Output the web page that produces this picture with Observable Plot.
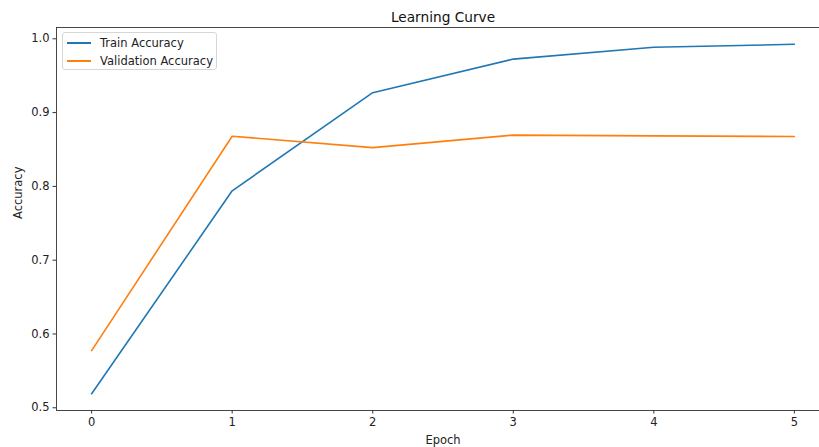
<!DOCTYPE html>
<html>
<head>
<meta charset="utf-8">
<script src="https://cdn.jsdelivr.net/npm/d3@7"></script>
<script src="https://cdn.jsdelivr.net/npm/@observablehq/plot@0.6"></script>
<style>
  html, body { margin: 0; padding: 0; background: #fff; overflow: hidden; }
  #wrap { position: relative; width: 819px; height: 447px; overflow: hidden; font-family: "DejaVu Sans", sans-serif; }
  .legend { position: absolute; left: 62px; top: 32px; width: 155px; height: 38px; border: 1px solid #d6d6d6; border-radius: 3px; background: rgba(255,255,255,0.8); box-sizing: border-box; font-size: 11.5px; color: #222; }
  .item { position: absolute; left: 4px; height: 14px; display: flex; align-items: center; white-space: nowrap; }
  .item span.sw { display: inline-block; width: 24px; height: 2px; margin-right: 9px; }
</style>
</head>
<body>
<div id="wrap"></div>
<script>
const epochs = [0, 1, 2, 3, 4, 5];
const trainAccuracy = [0.519, 0.794, 0.927, 0.9725, 0.9885, 0.9925];
const validationAccuracy = [0.5775, 0.868, 0.8525, 0.8695, 0.8685, 0.8675];
const seriesNames = ["Train Accuracy", "Validation Accuracy"];
const seriesColors = ["#1f77b4", "#ff7f0e"];
const yTicks = [0.5, 0.6, 0.7, 0.8, 0.9, 1.0];
const xTicks = [0, 1, 2, 3, 4, 5];

const rows = [];
epochs.forEach((e, i) => {
  rows.push({epoch: e, acc: trainAccuracy[i], series: seriesNames[0]});
  rows.push({epoch: e, acc: validationAccuracy[i], series: seriesNames[1]});
});

const font = "DejaVu Sans, sans-serif";
const chart = Plot.plot({
  width: 829,
  height: 447,
  marginLeft: 56,
  marginRight: 0,
  marginTop: 27,
  marginBottom: 37,
  style: {fontFamily: font, fontSize: "11.5px", color: "#222", maxWidth: "none", background: "white"},
  x: {domain: [-0.25, 5.25], ticks: xTicks, tickFormat: d3.format("d"), label: null, tickSize: 3.5, tickPadding: 3.5},
  y: {domain: [0.4963, 1.0153], ticks: yTicks, tickFormat: d3.format(".1f"), label: null, tickSize: 3.5, tickPadding: 3.5},
  color: {domain: seriesNames, range: seriesColors},
  marks: [
    Plot.line(rows, {x: "epoch", y: "acc", z: "series", stroke: "series", strokeWidth: 1.6}),
    Plot.frame({stroke: "#333", strokeWidth: 0.9}),
    Plot.axisX({ticks: xTicks, tickFormat: d3.format("d"), tickSize: 3.5, tickPadding: 3.5, fontSize: 11.5, stroke: "#333", fill: "#222"}),
    Plot.axisY({ticks: yTicks, tickFormat: d3.format(".1f"), tickSize: 3.5, tickPadding: 3.5, fontSize: 11.5, stroke: "#333", fill: "#222"}),
    Plot.text(["Learning Curve"], {frameAnchor: "top", dy: -15, fontSize: 13.7, fill: "#111"}),
    Plot.text(["Epoch"], {frameAnchor: "bottom", dy: 33, fontSize: 11.5, fill: "#222"}),
    Plot.text(["Accuracy"], {frameAnchor: "left", dx: -38, rotate: -90, fontSize: 11.5, fill: "#222"})
  ]
});
const wrap = document.getElementById("wrap");
wrap.appendChild(chart);

const leg = document.createElement("div");
leg.className = "legend";
seriesNames.forEach((n, i) => {
  const it = document.createElement("div");
  it.className = "item";
  it.style.top = (3 + i * 18) + "px";
  const sw = document.createElement("span");
  sw.className = "sw";
  sw.style.background = seriesColors[i];
  it.appendChild(sw);
  it.appendChild(document.createTextNode(n));
  leg.appendChild(it);
});
wrap.appendChild(leg);
</script>
</body>
</html>
